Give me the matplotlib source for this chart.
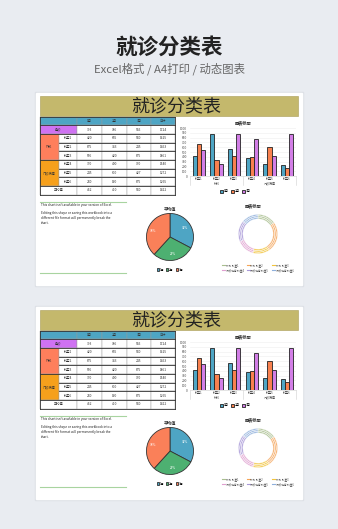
import numpy as np
import matplotlib
matplotlib.use('Agg')
import matplotlib.pyplot as plt
from matplotlib.patches import Rectangle

plt.rcParams['font.family'] = ['Noto Sans CJK SC', 'DejaVu Sans']

# ---------------- datos ----------------
meses = ['1月', '2月', '3月']
cabecera = ['1月', '2月', '3月', '合计']
grupos = ['外科', '门诊病房']
depts = ['科室1', '科室2', '科室3', '科室4', '科室5', '科室6']

fila_urgencias = [393, 786, 545, 1724]
ene = [420, 875, 566, 370, 245, 230]
feb = [665, 343, 420, 400, 600, 160]
mar = [540, 245, 875, 770, 427, 875]
total_col = [1625, 1463, 1861, 1540, 1272, 1265]
fila_media = [462, 410, 540, 1412]

donut_vals = [55, 90, 50, 53, 62, 50]
donut_labels = ['外科 科室1', '外科 科室2', '外科 科室3',
                '门诊病房 科室4', '门诊病房 科室5', '门诊病房 科室6']

# ---------------- colores ----------------
FONDO = '#e9ecf1'
AZUL = '#4ea5c4'
NARANJA = '#f8814f'
MORADO = '#d27ee6'
OLIVA = '#c4b86c'
VERDE = '#4db071'
col_bar = [AZUL, NARANJA, MORADO]
col_pie = [AZUL, VERDE, '#fa8059']
col_donut = ['#a9bf8f', '#f5a55a', '#f2c43c', '#e0a0d0', '#a898d8', '#8fb0dc']

W, H = 338, 529
fig = plt.figure(figsize=(W / 100, H / 100), dpi=100)
fig.patch.set_facecolor(FONDO)


def caja(x, y, w, h):
    return [x / W, 1 - (y + h) / H, w / W, h / H]


bg = fig.add_axes([0, 0, 1, 1])
bg.set_xlim(0, W)
bg.set_ylim(H, 0)
bg.axis('off')

fig.text(169 / W, 1 - 47.5 / H, '就诊分类表', ha='center', va='center',
         fontsize=15.5, fontweight='bold', color='#222222')
fig.text(169 / W, 1 - 69 / H, 'Excel格式 / A4打印 / 动态图表', ha='center',
         va='center', fontsize=8.2, color='#666666')


def panel(off):
    # tarjeta blanca
    bg.add_patch(Rectangle((35, 92 + off), 268, 194, color='#dde0e6', zorder=0))
    bg.add_patch(Rectangle((36, 93 + off), 266, 192, color='white', zorder=1))
    # cabecera oliva
    bg.add_patch(Rectangle((40, 96 + off), 258, 20, facecolor=OLIVA,
                           edgecolor='#a89c55', lw=0.4, zorder=2))
    bg.text(176, 106.5 + off, '就诊分类表', ha='center', va='center',
            fontsize=13, color='#222222', zorder=3)

    # tabla
    xs = [40, 59, 77, 102, 127, 151, 175]
    top = 116.5 + off
    rh = 8.7
    fs = 2.3

    def celda(x0, x1, r0, r1, fc, txt='', color='#333333'):
        bg.add_patch(Rectangle((x0, top + r0 * rh), x1 - x0, (r1 - r0) * rh,
                               facecolor=fc, edgecolor='#999999', lw=0.3, zorder=2))
        if txt:
            bg.text((x0 + x1) / 2, top + (r0 + r1) / 2 * rh, txt, ha='center',
                    va='center', fontsize=fs, color=color, zorder=3)

    celda(xs[0], xs[2], 0, 1, AZUL)
    for j, c in enumerate(cabecera):
        celda(xs[2 + j], xs[3 + j], 0, 1, AZUL, c)
    celda(xs[0], xs[2], 1, 2, '#cf72f2', '急诊')
    for j, v in enumerate(fila_urgencias):
        celda(xs[2 + j], xs[3 + j], 1, 2, 'white', str(v))
    celda(xs[0], xs[1], 2, 5, '#fe7f5c', grupos[0])
    celda(xs[0], xs[1], 5, 8, '#f6a01c', grupos[1])
    for i in range(6):
        fila = [ene[i], feb[i], mar[i], total_col[i]]
        celda(xs[1], xs[2], 2 + i, 3 + i, 'white', depts[i])
        for j, v in enumerate(fila):
            celda(xs[2 + j], xs[3 + j], 2 + i, 3 + i, 'white', str(v))
    celda(xs[0], xs[2], 8, 9, 'white', '平均值')
    for j, v in enumerate(fila_media):
        celda(xs[2 + j], xs[3 + j], 8, 9, 'white', str(v))
    # lineas horizontales oscuras
    for r in range(10):
        x0 = xs[1] if r in (3, 4, 6, 7) else xs[0]
        bg.plot([x0, xs[-1]], [top + r * rh, top + r * rh], color='#333333',
                lw=0.6, zorder=4)
    bg.plot([xs[0], xs[0]], [top, top + 9 * rh], color='#333333', lw=0.6, zorder=4)
    bg.plot([xs[-1], xs[-1]], [top, top + 9 * rh], color='#333333', lw=0.6, zorder=4)

    # caja de texto
    bg.plot([40, 126], [202 + off, 202 + off], color='#a8d4a0', lw=0.8, zorder=3)
    bg.plot([40, 126], [273 + off, 273 + off], color='#a8d4a0', lw=0.8, zorder=3)
    bg.text(41, 205 + off, "This chart isn't available in your version of Excel.",
            fontsize=2.3, va='center', color='#222222', zorder=3)
    bg.text(41, 211 + off, 'Editing this shape or saving this workbook into a\n'
            'different file format will permanently break the\nchart.',
            fontsize=2.3, va='top', color='#222222', linespacing=1.3, zorder=3)

    # ---- grafico de barras ----
    ax = fig.add_axes(caja(190, 128 + off, 106, 48))
    ax.set_zorder(5)
    ax.patch.set_alpha(0)
    x = np.arange(len(depts))
    w = 0.23
    for k, serie in enumerate([ene, feb, mar]):
        ax.bar(x + (k - 1) * w, serie, w, color=col_bar[k], edgecolor='#222222',
               lw=0.6, label=meses[k], zorder=3)
    ax.set_xlim(-0.5, 5.5)
    ax.set_ylim(0, 1000)
    ax.set_yticks(range(0, 1001, 100))
    ax.tick_params(axis='y', labelsize=2.3, length=0, pad=2, labelcolor='#444444')
    ax.set_xticks(x)
    ax.set_xticklabels(depts)
    ax.tick_params(axis='x', labelsize=2.2, length=0, pad=1, labelcolor='#444444')
    ax.grid(axis='y', color='#eeeeee', lw=0.4, zorder=0)
    for s in ['top', 'right', 'left']:
        ax.spines[s].set_visible(False)
    ax.spines['bottom'].set_color('#d0d0d0')
    ax.spines['bottom'].set_linewidth(0.4)
    for xv in [-0.5, 2.5, 5.5]:
        ax.plot([xv, xv], [0, -0.18], transform=ax.get_xaxis_transform(),
                color='#d0d0d0', lw=0.4, clip_on=False)
    ax.text(1, -0.165, grupos[0], transform=ax.get_xaxis_transform(), ha='center',
            va='center', fontsize=2.2, color='#444444')
    ax.text(4, -0.165, grupos[1], transform=ax.get_xaxis_transform(), ha='center',
            va='center', fontsize=2.2, color='#444444')
    ax.set_title('图表标题', fontsize=3, fontweight='bold', pad=3, color='#333333')
    ax.legend(loc='upper center', bbox_to_anchor=(0.43, -0.22), ncol=3, fontsize=2.3,
              frameon=False, handlelength=0.8, handleheight=0.8, columnspacing=0.8,
              handletextpad=0.3)

    # ---- pastel ----
    axp = fig.add_axes(caja(146, 213 + off, 48, 48))
    axp.set_zorder(5)
    wedges, _, autos = axp.pie(fila_media[:3], colors=col_pie, startangle=90,
                               counterclock=False, autopct='%d%%', pctdistance=0.75,
                               wedgeprops=dict(edgecolor='#333333', lw=0.6),
                               textprops=dict(fontsize=2.2, color='white'))
    axp.set_xlim(-1.02, 1.02)
    axp.set_ylim(-1.02, 1.02)
    axp.set_title('平均值', fontsize=3, fontweight='bold', pad=1.5, color='#333333')
    axp.legend(wedges, meses, loc='upper center', bbox_to_anchor=(0.5, -0.08), ncol=3,
               fontsize=2.2, frameon=False, handlelength=0.7, handleheight=0.7,
               columnspacing=0.6, handletextpad=0.3)

    # ---- anillo ----
    axd = fig.add_axes(caja(238, 214 + off, 40, 40))
    axd.set_zorder(5)
    for r in [1.0, 0.92, 0.84]:
        axd.pie(donut_vals, colors=col_donut, startangle=90, counterclock=False,
                radius=r, wedgeprops=dict(width=0.07, edgecolor='white', lw=0.3,
                                          alpha=0.85))
    axd.set_xlim(-1.02, 1.02)
    axd.set_ylim(-1.02, 1.02)
    bg.text(253, 206 + off, '图表标题', ha='center', va='center', fontsize=3,
            fontweight='bold', color='#333333', zorder=3)
    for i, lab in enumerate(donut_labels):
        lx = 222 + (i % 3) * 25
        ly = 265 + (i // 3) * 5 + off
        bg.plot([lx, lx + 2.5], [ly, ly], color=col_donut[i], lw=0.8, zorder=3)
        bg.text(lx + 3.5, ly, lab, fontsize=1.9, va='center', color='#444444', zorder=3)


panel(0)
panel(214)

fig.savefig('out.png', dpi=100, facecolor=fig.get_facecolor())
